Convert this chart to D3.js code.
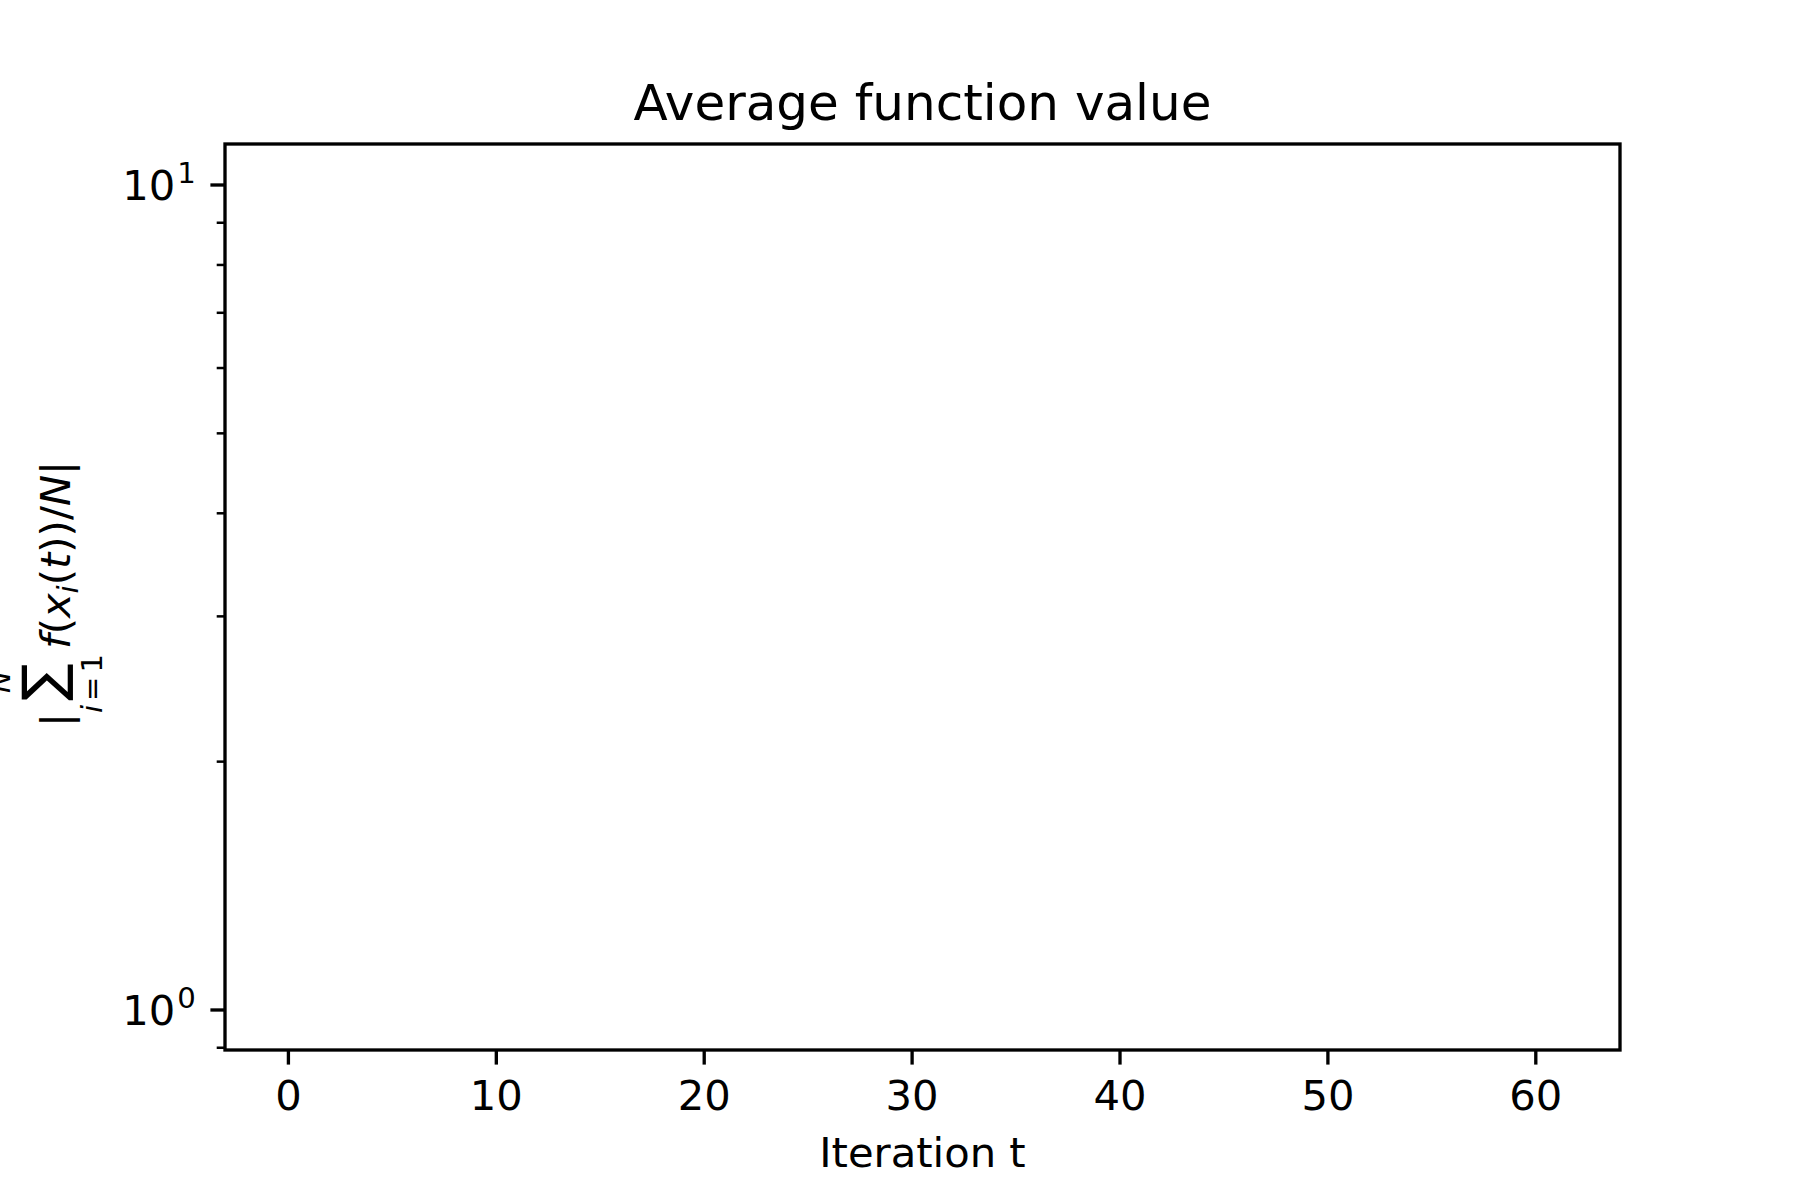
<!DOCTYPE html>
<html>
<head>
<meta charset="utf-8">
<script src="https://cdn.jsdelivr.net/npm/d3@7"></script>
<style>
  html, body { margin: 0; padding: 0; background: #fff; }
  svg { display: block; }
  text { font-family: "DejaVu Sans", sans-serif; fill: #000; }
</style>
</head>
<body>
<script>
// ---- data (the reference plot area is empty: no series drawn) ----
const seriesT = [];          // iteration values (none visible)
const seriesF = [];          // average function values (none visible)
const xTicks = [0, 10, 20, 30, 40, 50, 60];
const xTickLabels = ["0", "10", "20", "30", "40", "50", "60"];
const yMajorTicks = [1, 10];
const yMajorExp = ["0", "1"];
const yMinorTicks = [0.9, 2, 3, 4, 5, 6, 7, 8, 9];
const xDomain = [-3.05, 64.05];
const yDomain = [Math.pow(10, -0.0485), Math.pow(10, 1.0497)];
const titleText = "Average function value";
const xLabelText = "Iteration t";

const W = 1800, H = 1200;
const m = { left: 225, right: 1620, top: 144, bottom: 1050 };

const svg = d3.select("body").append("svg").attr("width", W).attr("height", H);

const x = d3.scaleLinear().domain(xDomain).range([m.left, m.right]);
const y = d3.scaleLog().domain(yDomain).range([m.bottom, m.top]);

// series line (empty)
svg.append("path")
  .datum(seriesT.map((t, i) => [t, seriesF[i]]))
  .attr("fill", "none").attr("stroke", "#1f77b4").attr("stroke-width", 6.25)
  .attr("d", d3.line().x(d => x(d[0])).y(d => y(d[1])));

// x axis ticks
const xg = svg.append("g").attr("transform", `translate(0,${m.bottom})`);
xg.selectAll("line").data(xTicks).join("line")
  .attr("x1", d => x(d)).attr("x2", d => x(d))
  .attr("y1", 0).attr("y2", 14.6)
  .attr("stroke", "#000").attr("stroke-width", 3.33);
xg.selectAll("text").data(xTicks).join("text")
  .attr("x", d => x(d)).attr("y", 60)
  .attr("text-anchor", "middle").attr("font-size", 41.7)
  .text((d, i) => xTickLabels[i]);

// y axis ticks
const yg = svg.append("g").attr("transform", `translate(${m.left},0)`);
yg.selectAll("line.minor").data(yMinorTicks).join("line").attr("class", "minor")
  .attr("x1", 0).attr("x2", -8.3)
  .attr("y1", d => y(d)).attr("y2", d => y(d))
  .attr("stroke", "#000").attr("stroke-width", 2.5);
yg.selectAll("line.major").data(yMajorTicks).join("line").attr("class", "major")
  .attr("x1", 0).attr("x2", -14.6)
  .attr("y1", d => y(d)).attr("y2", d => y(d))
  .attr("stroke", "#000").attr("stroke-width", 3.33);
const yl = yg.selectAll("text").data(yMajorTicks).join("text")
  .attr("x", -29.2).attr("y", d => y(d) + 15)
  .attr("text-anchor", "end").attr("font-size", 41.7);
yl.append("tspan").text("10");
yl.append("tspan").attr("font-size", 29.2).attr("dy", -17).attr("dx", 2)
  .text((d, i) => yMajorExp[i]);

// frame
svg.append("rect")
  .attr("x", m.left).attr("y", m.top)
  .attr("width", m.right - m.left).attr("height", m.bottom - m.top)
  .attr("fill", "none").attr("stroke", "#000").attr("stroke-width", 3.33);

// title
svg.append("text").attr("x", (m.left + m.right) / 2).attr("y", 120)
  .attr("text-anchor", "middle").attr("font-size", 50).text(titleText);

// x label
svg.append("text").attr("x", (m.left + m.right) / 2).attr("y", 1167)
  .attr("text-anchor", "middle").attr("font-size", 41.7).text(xLabelText);

// y label: |∑_{i=1}^{N} f(x_i(t))/N|
const ylab = svg.append("g").attr("transform", `translate(70,${(m.top + m.bottom) / 2}) rotate(-90)`);
ylab.append("text").attr("x", -130).attr("y", 0).attr("font-size", 41.7).text("|");
ylab.append("text").attr("x", -85.5).attr("y", -8).attr("text-anchor", "middle")
  .attr("font-size", 56).text("∑");
const sub = ylab.append("text").attr("x", -86.5).attr("y", 32).attr("text-anchor", "middle")
  .attr("font-size", 29.2);
sub.append("tspan").attr("font-style", "italic").text("i");
sub.append("tspan").attr("dx", 4).text("=");
sub.append("tspan").attr("dx", 4).text("1");
ylab.append("text").attr("x", -85).attr("y", -60).attr("text-anchor", "middle")
  .attr("font-size", 29.2).attr("font-style", "italic").text("N");
const main = ylab.append("text").attr("x", -52).attr("y", 0).attr("font-size", 41.7);
main.append("tspan").attr("font-style", "italic").text("f");
main.append("tspan").text("(");
main.append("tspan").attr("font-style", "italic").text("x");
main.append("tspan").attr("font-style", "italic").attr("font-size", 29.2).attr("dy", 8).text("i");
main.append("tspan").attr("dy", -8).text("(");
main.append("tspan").attr("font-style", "italic").text("t");
main.append("tspan").text("))/");
main.append("tspan").attr("font-style", "italic").text("N");
main.append("tspan").text("|");
</script>
</body>
</html>
